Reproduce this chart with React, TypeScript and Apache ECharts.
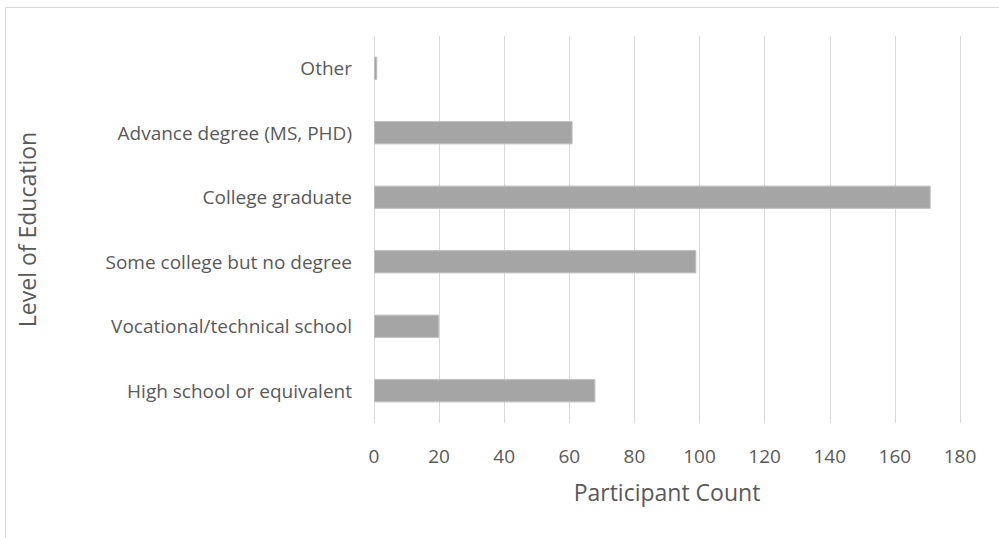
import React, { useEffect, useRef } from "react";
import * as echarts from "echarts";

// Education levels, listed bottom to top as they appear on the category axis
const educationLevels = [
  "High school or equivalent",
  "Vocational/technical school",
  "Some college but no degree",
  "College graduate",
  "Advance degree (MS, PHD)",
  "Other",
];

// Number of participants in each education level
const participantCounts = [68, 20, 99, 171, 61, 1];

const countAxisMax = 180;
const countAxisStep = 20;

const FONT = "'Open Sans', 'Noto Sans', sans-serif";
const TEXT_COLOR = "#595959";

export default function App() {
  const ref = useRef<HTMLDivElement>(null);

  useEffect(() => {
    if (!ref.current) return;
    const chart = echarts.init(ref.current, undefined, { renderer: "svg" });
    chart.setOption({
      animation: false,
      backgroundColor: "#ffffff",
      textStyle: { fontFamily: FONT },
      graphic: [
        {
          type: "rect",
          shape: { x: 5.5, y: 7.5, width: 1100, height: 700 },
          style: { fill: "none", stroke: "#d9d9d9", lineWidth: 1 },
          silent: true,
        },
      ],
      grid: { left: 374, right: 39, top: 36, bottom: 115 },
      xAxis: {
        type: "value",
        min: 0,
        max: countAxisMax,
        interval: countAxisStep,
        name: "Participant Count",
        nameLocation: "middle",
        nameGap: 57,
        nameTextStyle: { fontSize: 23, color: TEXT_COLOR, fontFamily: FONT },
        axisLine: { show: false },
        axisTick: { show: false },
        axisLabel: { fontSize: 19, color: TEXT_COLOR, margin: 23, fontFamily: FONT },
        splitLine: { show: true, lineStyle: { color: "#d9d9d9", width: 1 } },
      },
      yAxis: {
        type: "category",
        data: educationLevels,
        name: "Level of Education",
        nameLocation: "middle",
        nameGap: 336,
        nameRotate: 90,
        nameTextStyle: { fontSize: 23, color: TEXT_COLOR, fontFamily: FONT },
        axisLine: { show: false },
        axisTick: { show: false },
        axisLabel: { fontSize: 19, color: TEXT_COLOR, margin: 22, fontFamily: FONT },
        splitLine: { show: false },
      },
      series: [
        {
          type: "bar",
          data: participantCounts,
          barCategoryGap: "64%",
          itemStyle: { color: "#a5a5a5", borderColor: "#bdbdbd", borderWidth: 1 },
        },
      ],
    });
    return () => chart.dispose();
  }, []);

  return (
    <div
      ref={ref}
      style={{ position: "fixed", left: 0, top: 0, width: 999, height: 538 }}
    />
  );
}
